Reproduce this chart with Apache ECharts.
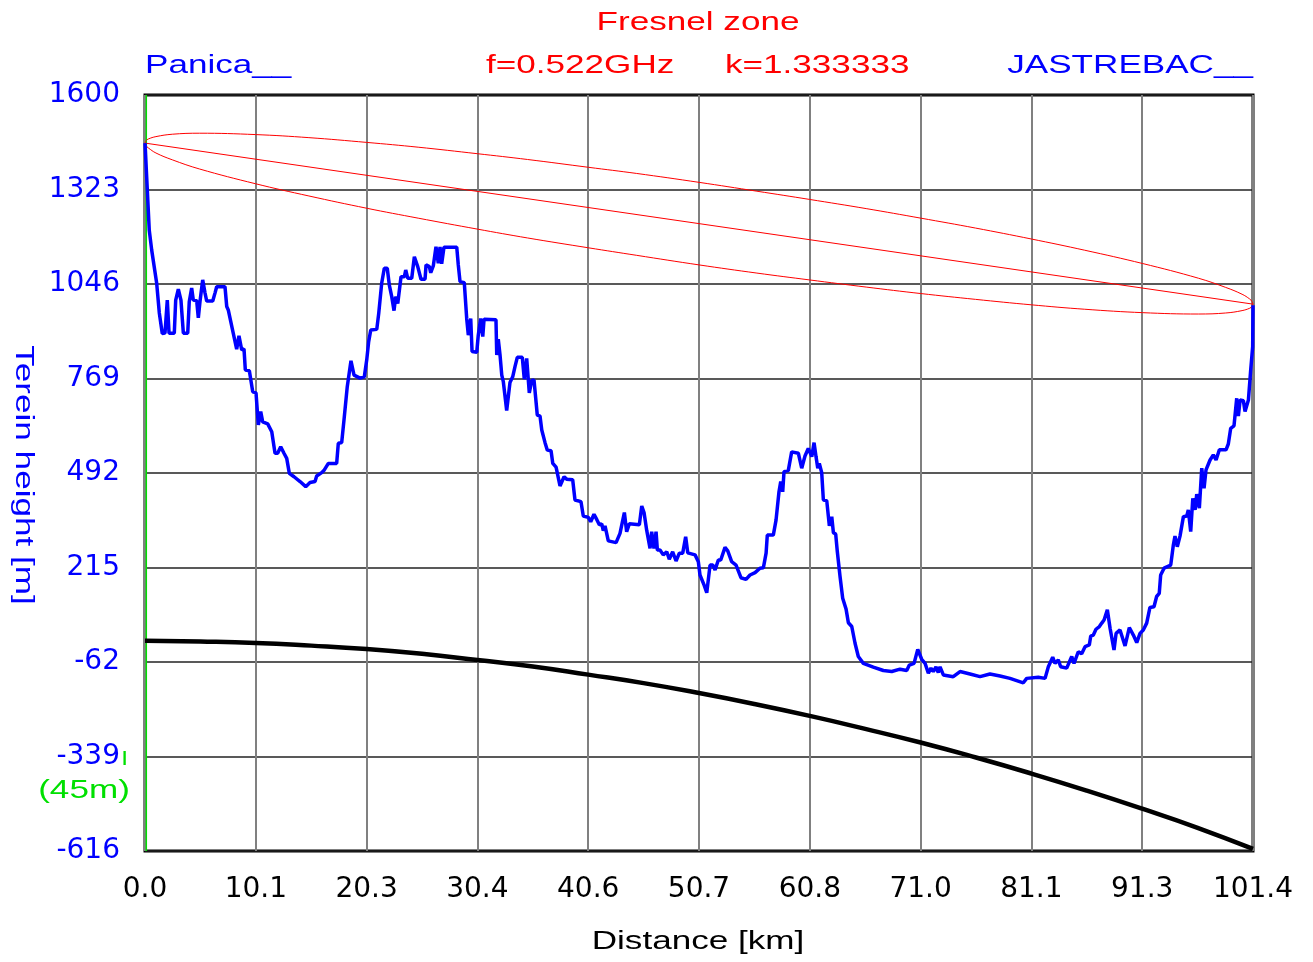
<!DOCTYPE html>
<html><head><meta charset="utf-8">
<script src="https://cdn.jsdelivr.net/npm/echarts@6/dist/echarts.min.js"></script>
<style>html,body{margin:0;padding:0;background:#fff}#c{width:1313px;height:962px}</style>
</head><body><div id="c"></div>
<script>
// Terrain profile (distance in km, height in m)
const terrainKm = [
0.00,0.09,0.21,0.39,0.61,1.07,1.31,1.58,1.83,2.04,
2.20,2.68,2.81,3.05,3.29,3.51,3.91,4.05,4.27,4.42,
4.73,4.88,5.03,5.28,5.49,5.65,6.20,6.41,6.56,7.32,
7.48,7.62,8.08,8.39,8.60,8.85,9.06,9.18,9.55,9.86,
10.16,10.37,10.59,10.77,11.23,11.60,11.90,12.14,12.42,12.72,
12.97,13.21,13.64,14.19,14.71,15.10,15.56,15.71,16.17,16.41,
16.78,17.54,17.69,18.00,18.21,18.51,18.85,19.13,19.68,20.07,
20.29,20.47,20.66,21.21,21.39,21.66,21.90,22.17,22.36,22.58,
22.79,22.94,23.13,23.43,23.73,23.86,24.04,24.41,24.65,24.96,
25.26,25.63,25.72,26.02,26.15,26.39,26.63,26.84,27.00,27.15,
27.36,28.53,28.67,28.83,29.22,29.44,29.59,29.81,29.93,30.36,
30.50,30.72,30.91,31.03,32.12,32.19,32.33,32.49,32.65,32.79,
33.10,33.40,33.65,33.86,34.07,34.53,34.71,34.93,35.17,35.39,
35.60,35.90,36.15,36.31,36.61,36.82,37.16,37.32,37.62,37.98,
38.35,38.59,39.14,39.35,39.90,40.11,40.57,40.79,41.09,41.34,
41.58,41.80,41.94,42.10,42.40,43.11,43.47,43.87,44.08,44.32,
45.24,45.46,45.67,45.92,46.22,46.37,46.58,46.77,46.89,47.13,
47.43,47.75,47.98,48.29,48.60,48.90,49.21,49.48,49.67,50.34,
50.64,50.79,50.95,51.16,51.41,51.71,51.96,52.17,52.47,52.69,
53.08,53.33,53.69,54.09,54.54,55.00,55.37,55.83,56.28,56.59,
56.84,56.95,57.50,57.75,58.02,58.18,58.36,58.48,58.87,59.18,
59.79,60.10,60.40,60.70,61.02,61.23,61.41,61.57,61.71,61.93,
62.08,62.39,62.63,62.85,63.00,63.21,63.36,63.61,63.85,64.16,
64.37,64.68,64.98,65.28,65.74,66.65,67.57,68.34,69.10,69.71,
69.95,70.38,70.72,71.08,71.39,71.69,71.93,72.15,72.39,72.60,
72.76,73.06,73.97,74.59,75.50,76.42,77.33,78.25,79.16,80.38,
80.69,81.75,82.37,82.67,83.07,83.28,83.58,83.80,84.35,84.81,
85.02,85.41,85.72,86.03,86.42,86.55,86.79,87.03,87.34,87.56,
87.77,88.07,88.32,88.68,88.87,89.23,89.69,90.08,90.45,90.76,
91.06,91.36,91.67,91.97,92.34,92.58,92.82,92.95,93.26,93.87,
94.11,94.26,94.47,94.72,95.03,95.34,95.48,95.70,95.89,96.10,
96.25,96.49,96.71,96.92,97.10,97.47,97.77,98.02,98.32,98.93,
99.14,99.36,99.66,99.91,100.06,100.22,100.52,100.67,100.98,101.19,
101.37,101.40];
const terrainM = [
1459,1401,1400,1204,1146,1048,961,901,902,999,
902,902,999,1031,999,902,902,994,1034,999,
997,947,994,1058,1020,996,996,1020,1038,1038,
980,970,901,855,894,853,856,794,792,730,
727,633,672,642,636,613,550,550,569,550,
535,491,481,467,452,464,467,483,493,501,
520,520,579,581,647,745,821,779,770,774,
823,877,911,913,960,1048,1092,1092,1043,1009,
968,1009,989,1067,1067,1087,1063,1063,1126,1097,
1060,1060,1102,1097,1079,1100,1155,1107,1155,1105,
1154,1154,1102,1053,1050,945,896,945,848,846,
896,945,892,943,941,838,884,838,779,760,
675,757,774,804,831,831,767,828,727,763,
765,662,659,618,581,559,557,520,509,454,
481,474,472,413,408,366,362,349,371,356,
340,343,323,337,293,288,315,376,320,343,
340,395,376,323,271,320,271,320,266,266,
252,261,239,261,234,257,257,305,258,252,
232,193,198,164,141,222,222,208,237,237,
274,264,232,222,185,180,193,200,213,214,
257,310,310,354,437,467,437,496,499,554,
550,506,542,564,540,581,540,506,520,493,
413,411,337,364,317,313,261,188,125,93,
53,42,-7,-46,-66,-77,-87,-90,-83,-87,
-71,-66,-25,-54,-66,-95,-80,-90,-76,-93,
-76,-100,-105,-90,-97,-105,-97,-103,-110,-123,
-110,-107,-110,-76,-48,-66,-56,-76,-80,-46,
-66,-32,-38,-17,-12,14,17,34,42,52,
61,91,37,-27,22,32,-15,39,17,-5,
22,32,52,98,100,130,139,193,213,222,
281,307,276,307,364,366,384,320,418,384,
430,389,506,447,501,530,545,530,560,560,
577,623,630,711,659,706,704,672,706,794,
862,984];

// Earth curvature reference line
const curveKm = [0,5.07,10.14,15.21,20.28,25.35,30.42,35.49,40.56,45.63,50.7,55.77,60.84,65.91,70.98,76.05,81.12,86.19,91.26,96.33,101.4];
const curveM  = [0,-2,-6,-14,-24,-38,-56,-75,-99,-124,-153,-185,-220,-258,-298,-342,-389,-439,-492,-548,-610];

// Fresnel zone
const fresnelKm    = [0,0.1,0.3,1,2.5,5,10.1,15,20.3,25,30.4,35,40.6,45,50.7,56,60.8,66,71,76,81.1,86,91.3,96.4,98.9,100.4,101.1,101.3,101.4];
const fresnelUpper = [1459,1466,1471,1478,1485,1488,1484,1475,1461,1447,1428,1411,1388,1370,1344,1318,1294,1267,1239,1210,1178,1145,1106,1063,1036,1016,1002,995,987];
const fresnelLower = [1459,1451,1445,1430,1410,1383,1340,1304,1268,1239,1207,1181,1152,1130,1102,1078,1058,1037,1018,1001,985,972,962,958,961,968,975,980,987];
const losKm = [0, 101.4];
const losM  = [1459, 987];

// Antenna marker (green)
const antennaKm = [0.12, 0.12];
const antennaM  = [-616, 1600];

// Tick labels
const xTickLabels = ['0.0','10.1','20.3','30.4','40.6','50.7','60.8','71.0','81.1','91.3','101.4'];
const yTickLabels = ['-616','-339','-62','215','492','769','1046','1323','1600'];

const pairs = (xs, ys) => xs.map((x, i) => [x, ys[i]]);
const chart = echarts.init(document.getElementById('c'), null, {renderer: 'canvas'});
const labelFont = 'DejaVu Sans';
const txtFont = '26px "Liberation Sans", Arial, sans-serif';
const SX = 1.35;

const lineSeries = (data, color, width, extra) => Object.assign({
  type: 'line', data: data, xAxisIndex: 0, yAxisIndex: 0, symbol: 'none', showSymbol: false,
  lineStyle: {color: color, width: width}, itemStyle: {color: color}, clip: true, silent: true
}, extra || {});

chart.setOption({
  animation: false,
  backgroundColor: '#ffffff',
  grid: {left: 145, right: 60, top: 95, bottom: 111, show: true, borderColor: '#000', borderWidth: 3, backgroundColor: 'transparent'},
  xAxis: [
    {type: 'value', min: 0, max: 101.4, show: false},
    {type: 'value', min: 0, max: 10, interval: 1, position: 'bottom',
      axisLine: {show: false}, axisTick: {show: false},
      axisLabel: {formatter: v => xTickLabels[Math.round(v)], color: '#000', fontFamily: labelFont, fontSize: 28, margin: 25, showMinLabel: true, showMaxLabel: true},
      splitLine: {show: true, lineStyle: {color: '#808080', width: 2}}}
  ],
  yAxis: [
    {type: 'value', min: -616, max: 1600, show: false},
    {type: 'value', min: 0, max: 8, interval: 1, position: 'left',
      axisLine: {show: false}, axisTick: {show: false},
      axisLabel: {formatter: v => yTickLabels[Math.round(v)], color: '#0000ff', fontFamily: labelFont, fontSize: 28, margin: 25, lineHeight: 28, padding: [11, 0, 0, 0], showMinLabel: true, showMaxLabel: true},
      splitLine: {show: true, lineStyle: {color: '#222', width: 1.5}}}
  ],
  series: [
    lineSeries(pairs(antennaKm, antennaM), '#00e000', 1.5),
    lineSeries(pairs(curveKm, curveM), '#000000', 4.5, {smooth: true}),
    lineSeries(pairs(fresnelKm, fresnelUpper), '#ff0000', 1, {smooth: 0.4}),
    lineSeries(pairs(fresnelKm, fresnelLower), '#ff0000', 1, {smooth: 0.4}),
    lineSeries(pairs(losKm, losM), '#ff0000', 1),
    lineSeries(pairs(terrainKm, terrainM), '#0000ff', 3.5, {z: 5})
  ],
  graphic: [
    {type: 'text', x: 698, y: 23, scaleX: SX, style: {text: 'Fresnel zone', fill: '#ff0000', font: txtFont, align: 'center', verticalAlign: 'middle'}},
    {type: 'text', x: 145, y: 66, scaleX: SX, style: {text: 'Panica__', fill: '#0000ff', font: txtFont, align: 'left', verticalAlign: 'middle'}},
    {type: 'text', x: 486, y: 66, scaleX: SX, style: {text: 'f=0.522GHz', fill: '#ff0000', font: txtFont, align: 'left', verticalAlign: 'middle'}},
    {type: 'text', x: 725, y: 66, scaleX: SX, style: {text: 'k=1.333333', fill: '#ff0000', font: txtFont, align: 'left', verticalAlign: 'middle'}},
    {type: 'text', x: 1253, y: 66, scaleX: SX, style: {text: 'JASTREBAC__', fill: '#0000ff', font: txtFont, align: 'right', verticalAlign: 'middle'}},
    {type: 'text', x: 23, y: 475, rotation: -Math.PI / 2, scaleX: SX, style: {text: 'Terein height [m]', fill: '#0000ff', font: txtFont, align: 'center', verticalAlign: 'middle'}},
    {type: 'text', x: 698, y: 942, scaleX: SX, style: {text: 'Distance [km]', fill: '#000000', font: txtFont, align: 'center', verticalAlign: 'middle'}},
    {type: 'text', x: 84, y: 791, scaleX: SX, style: {text: '(45m)', fill: '#00e000', font: txtFont, align: 'center', verticalAlign: 'middle'}},
    {type: 'text', x: 121, y: 758, style: {text: 'ı', fill: '#00e000', font: txtFont, align: 'left', verticalAlign: 'middle'}}
  ]
});
</script>
</body></html>
